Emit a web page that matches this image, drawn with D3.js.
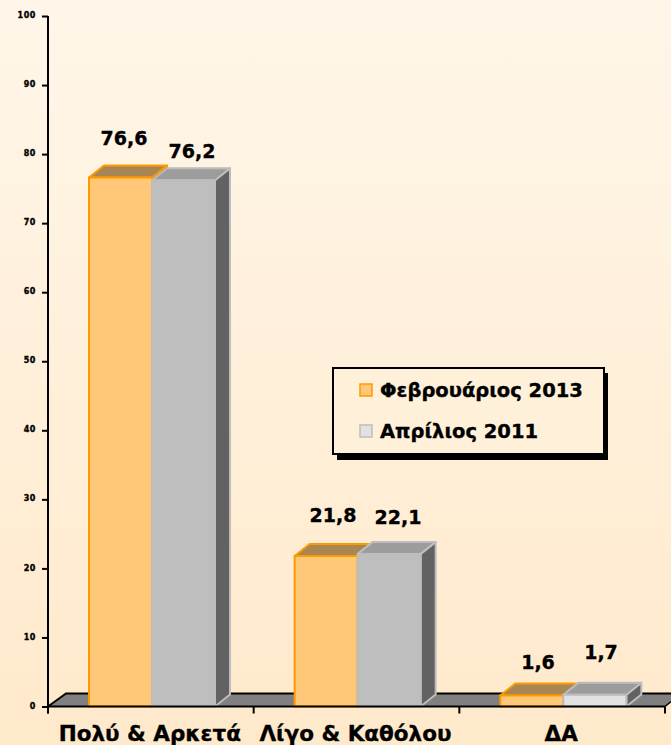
<!DOCTYPE html>
<html>
<head>
<meta charset="utf-8">
<script src="https://cdn.jsdelivr.net/npm/d3@7"></script>
<style>
html,body{margin:0;padding:0;background:#fff}
svg{display:block}
text{font-family:"DejaVu Sans",sans-serif;font-weight:bold;fill:#000;stroke:#000;stroke-width:.35px}
</style>
</head>
<body>
<svg id="chart" width="671" height="745"></svg>
<script>
const categories = ["Πολύ & Αρκετά", "Λίγο & Καθόλου", "ΔΑ"];
const seriesNames = ["Φεβρουάριος 2013", "Απρίλιος 2011"];
const feb2013 = [76.6, 21.8, 1.6];
const apr2011 = [76.2, 22.1, 1.7];
const valueTicks = [0, 10, 20, 30, 40, 50, 60, 70, 80, 90, 100];

const svg = d3.select("#chart");
const W = 671, H = 745;
const dx = 15, dy = 12;

const defs = svg.append("defs");
const g = defs.append("linearGradient").attr("id", "bg").attr("x1", 0).attr("y1", 0).attr("x2", 0).attr("y2", 1);
g.append("stop").attr("offset", "0%").attr("stop-color", "#FFF6E9");
g.append("stop").attr("offset", "100%").attr("stop-color", "#FFE9CB");
svg.append("rect").attr("width", W).attr("height", H).attr("fill", "url(#bg)");

const x0 = d3.scaleBand().domain(categories).range([48, 665]);
const x1 = d3.scaleBand().domain(seriesNames).range([41, 167]);
const y = d3.scaleLinear().domain([0, 100]).range([706.5, 16]);

// floor
const fy = y(0);
svg.append("path")
  .attr("d", `M48,${fy} L${48 + 18},${fy - 13} L671,${fy - 13} L671,${fy - 5} L665,${fy} Z`)
  .attr("fill", "#808080");
svg.append("path")
  .attr("d", `M48,${fy} L${48 + 18},${fy - 13} L671,${fy - 13}`)
  .attr("fill", "none").attr("stroke", "#000").attr("stroke-width", 2);
svg.append("path")
  .attr("d", `M665,${fy} L671,${fy - 5}`)
  .attr("fill", "none").attr("stroke", "#000").attr("stroke-width", 1.5);

const styles = [
  { front: () => "#FFC878", stroke: () => "#FF9900", top: "#A88654", side: "#7d6238" },
  { front: (i) => i === 2 ? "#E2E2E2" : "#BEBEBE", stroke: () => "#BDBDBD", top: "#9C9C9C", side: "#626262" }
];
const labelOffsets = [[-33, -22], [-34, -30], [-26, -36]];

function bar(layer, cat, i, s, value) {
  const st = styles[s];
  const xl = x0(cat) + x1(seriesNames[s]);
  const w = x1.bandwidth();
  const yt = y(value), yb = y(0);
  const sw = 2;
  layer.append("path") // side
    .attr("d", `M${xl + w},${yt} L${xl + w + dx},${yt - dy} L${xl + w + dx},${yb - dy} L${xl + w},${yb} Z`)
    .attr("fill", st.side).attr("stroke", st.stroke(i)).attr("stroke-width", sw).attr("stroke-linejoin", "round");
  layer.append("path") // top
    .attr("d", `M${xl},${yt} L${xl + dx},${yt - dy} L${xl + w + dx},${yt - dy} L${xl + w},${yt} Z`)
    .attr("fill", st.top).attr("stroke", st.stroke(i)).attr("stroke-width", sw).attr("stroke-linejoin", "round");
  layer.append("rect") // front
    .attr("x", xl).attr("y", yt).attr("width", w).attr("height", yb - yt)
    .attr("fill", st.front(i)).attr("stroke", st.stroke(i)).attr("stroke-width", sw);
}

const bars = svg.append("g");
categories.forEach((c, i) => {
  bar(bars, c, i, 0, feb2013[i]);
  bar(bars, c, i, 1, apr2011[i]);
});

// x baseline and axes
const xAxis = d3.axisBottom(x0).tickSize(0).tickFormat("");
const gx = svg.append("g").attr("transform", `translate(0,${fy})`).call(xAxis);
gx.select(".domain").attr("stroke", "#000").attr("stroke-width", 2).attr("d", "M48,0H665");
gx.selectAll(".tick").remove();
[0, 1, 2, 3].forEach(k => {
  const tx = k < 3 ? x0(categories[k]) : x0.range()[1];
  gx.append("line").attr("x1", tx).attr("x2", tx).attr("y1", 0).attr("y2", 7).attr("stroke", "#000").attr("stroke-width", 2);
});

const yAxis = d3.axisLeft(y).tickValues(valueTicks).tickSize(6).tickPadding(6).tickFormat(d3.format("d"));
const gy = svg.append("g").attr("transform", "translate(48,0)").call(yAxis);
gy.select(".domain").attr("stroke", "#000").attr("stroke-width", 2).attr("d", `M0,${y(100)}V${y(0) + 7}`);
gy.selectAll(".tick line").attr("stroke", "#000").attr("stroke-width", 2);
gy.selectAll(".tick text").attr("font-size", 8).attr("font-family", "DejaVu Sans").attr("font-weight", "bold").attr("fill", "#000").attr("dy", "0.2em").attr("letter-spacing", 0.6);

// category labels
svg.append("g").selectAll("text").data(categories).join("text")
  .attr("x", d => x0(d) + x0.bandwidth() / 2 - 1)
  .attr("y", 741)
  .attr("text-anchor", "middle")
  .attr("font-size", 21.5)
  .text(d => d);

// value labels
const fmt = v => String(v).replace(".", ",");
const lblX = [[124, 192], [333, 398], [538, 601]];
categories.forEach((c, i) => {
  [feb2013[i], apr2011[i]].forEach((v, s) => {
    svg.append("text")
      .attr("x", lblX[i][s])
      .attr("y", y(v) + labelOffsets[i][s])
      .attr("text-anchor", "middle")
      .attr("font-size", 19)
      .text(fmt(v));
  });
});

// legend
const lg = svg.append("g").attr("transform", "translate(333,368)");
lg.append("rect").attr("x", 4).attr("y", 5).attr("width", 271).attr("height", 87).attr("fill", "#000");
lg.append("rect").attr("x", 0).attr("y", 0).attr("width", 271).attr("height", 86).attr("fill", "#FFF0DA").attr("stroke", "#000").attr("stroke-width", 2);
const legFill = ["#FFC878", "#E2E2E2"], legStroke = ["#FF9900", "#BDBDBD"];
seriesNames.forEach((n, i) => {
  const row = lg.append("g").attr("transform", `translate(0,${16 + i * 41})`);
  row.append("rect").attr("x", 27).attr("y", 0).attr("width", 12).attr("height", 12)
    .attr("fill", legFill[i]).attr("stroke", legStroke[i]).attr("stroke-width", 1.5);
  row.append("text").attr("x", 47).attr("y", 12.5).attr("font-size", 19.5).text(n);
});
</script>
</body>
</html>
